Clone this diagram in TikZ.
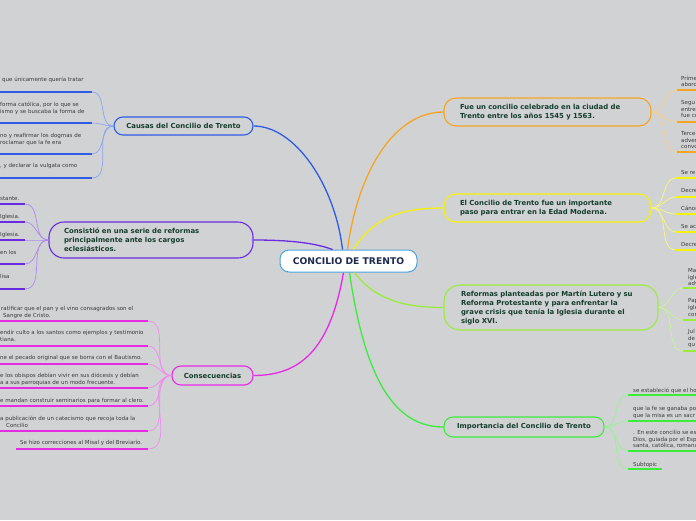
\documentclass[tikz,border=0pt]{standalone}
\usepackage{fontspec}
\setmainfont{DejaVu Sans}
\definecolor{bgc}{HTML}{D1D2D4}
\definecolor{ttxt}{HTML}{143D2C}
\definecolor{ctxt}{HTML}{3A3A3A}
\definecolor{navy}{HTML}{1B2A4E}
\definecolor{cbord}{HTML}{4DA3DF}
\definecolor{corange}{HTML}{F5A424}
\definecolor{cyellow}{HTML}{F2F20A}
\definecolor{clime}{HTML}{9CEB3C}
\definecolor{cgreen}{HTML}{3DEB3D}
\definecolor{cblue}{HTML}{2F5CE6}
\definecolor{cpurple}{HTML}{6A2CE3}
\definecolor{cmag}{HTML}{E52BE5}
\newcommand{\chfont}{\fontsize{5.5}{6.8}\selectfont}
\newcommand{\tpfont}{\fontsize{6.9}{9}\selectfont\bfseries}
\newcommand{\cnfont}{\fontsize{9.2}{11}\selectfont\bfseries}
\tikzset{
  topic/.style 2 args={draw=#1, line width=1.1pt, rounded corners=#2, font=\tpfont, text=ttxt, inner ysep=0pt, shape=rectangle},
  mainline/.style={draw=#1, line width=1.3pt},
  subline/.style={draw=#1!55!white, line width=0.7pt},
  uline/.style={draw=#1, line width=1.7pt},
  chtext/.style={font=\chfont, text=ctxt, inner sep=0pt, align=left, anchor=north west},
}
% right child: name, parent, colour, xstart, xend, yline, xtext, ytop, text
\newcommand{\rchild}[9]{%
  \coordinate (#1s) at (#4,#6);
  \coordinate (#1e) at (#5,#6);
  \draw[uline=#3] (#1s) -- (#1e);
  \draw[subline=#3] (#2.east) to[out=0,in=180] (#1s);
  \node[chtext] (#1t) at (#7,#8) {#9};}
% left child: name, parent, colour, xnear, xfar, yline, xtext, ytop, text
\newcommand{\lchild}[9]{%
  \coordinate (#1s) at (#4,#6);
  \coordinate (#1e) at (#5,#6);
  \draw[uline=#3] (#1e) -- (#1s);
  \draw[subline=#3] (#2.west) to[out=180,in=0] (#1s);
  \node[chtext] (#1t) at (#7,#8) {#9};}
\begin{document}
\begin{tikzpicture}[x=1pt,y=-1pt]
\useasboundingbox (0,0) rectangle (696,520);
\fill[bgc] (0,0) rectangle (696,520);
\clip (0,0) rectangle (696,520);

% central node
\node[draw=cbord, fill=white, line width=1pt, rounded corners=9pt, minimum width=137, minimum height=22, font=\cnfont, text=navy, inner sep=0pt] (cent) at (348.5,261) {CONCILIO DE TRENTO};

% main topics
\node[topic={corange}{12pt}, minimum width=207, minimum height=28, inner xsep=16, text width=175, align=left] (fue) at (547.5,112) {Fue un concilio celebrado en la ciudad de\\Trento entre los años 1545 y 1563.};
\node[topic={cyellow}{12pt}, minimum width=207, minimum height=28, inner xsep=16, text width=175, align=left] (paso) at (547.5,208) {El Concilio de Trento fue un importante\\paso para entrar en la Edad Moderna.};
\node[topic={clime}{16pt}, minimum width=214, minimum height=45, inner xsep=17, text width=180, align=left] (reformas) at (551,307.5) {Reformas planteadas por Martín Lutero y su\\Reforma Protestante y para enfrentar la\\grave crisis que tenía la Iglesia durante el\\siglo XVI.};
\node[topic={cgreen}{9pt}, minimum width=160, minimum height=20] (importancia) at (524,427) {Importancia del Concilio de Trento};
\node[topic={cblue}{9pt}, minimum width=139, minimum height=18] (causas) at (183.5,126) {Causas del Concilio de Trento};
\node[topic={cpurple}{15pt}, minimum width=204, minimum height=36, inner xsep=15, text width=174, align=left] (consistio) at (151,240) {Consistió en una serie de reformas\\principalmente ante los cargos\\eclesiásticos.};
\node[topic={cmag}{9pt}, minimum width=81, minimum height=19] (consec) at (212.5,375.5) {Consecuencias};

% main connectors
\draw[mainline=cblue] ([xshift=-6pt]cent.north) .. controls (335,185) and (295,126) .. (causas.east);
\draw[mainline=corange] ([xshift=-1pt]cent.north) .. controls (358,170) and (395,112) .. (fue.west);
\draw[mainline=cyellow] ([xshift=5pt]cent.north) .. controls (375,215) and (405,208) .. (paso.west);
\draw[mainline=cpurple] ([xshift=-16pt]cent.north) .. controls (315,243) and (290,240) .. (consistio.east);
\draw[mainline=clime] ([xshift=6pt]cent.south) .. controls (375,300) and (405,307.5) .. (reformas.west);
\draw[mainline=cgreen] ([xshift=1pt]cent.south) .. controls (365,380) and (395,427) .. (importancia.west);
\draw[mainline=cmag] ([xshift=-5pt]cent.south) .. controls (330,350) and (300,375.5) .. (consec.east);

% orange children
\rchild{oa}{fue}{corange}{677}{700}{90}{681}{75.8}{Prime\\abord}
\rchild{ob}{fue}{corange}{677}{700}{122}{681}{100}{Segu\\entre\\fue co}
\rchild{oc}{fue}{corange}{677}{700}{152}{681}{131}{Terce\\adver\\convo}

% yellow children
\rchild{ya}{paso}{cyellow}{676}{700}{178}{681}{170}{Se re}
\rchild{yb}{paso}{cyellow}{676}{700}{197}{681}{188}{Decre}
\rchild{yc}{paso}{cyellow}{676}{700}{214}{681}{205.5}{Cánon}
\rchild{yd}{paso}{cyellow}{676}{700}{232}{681}{224}{Se ac}
\rchild{ye}{paso}{cyellow}{676}{700}{250}{681}{242}{Decre}

% lime children
\rchild{la}{reformas}{clime}{683}{700}{288}{688}{268}{Ma\\igle\\adv}
\rchild{lb}{reformas}{clime}{683}{700}{320}{688}{298.5}{Pap\\igle\\con}
\rchild{lc}{reformas}{clime}{683}{700}{351}{688}{329}{Jul\\de\\qu}

% green children
\rchild{ga}{importancia}{cgreen}{628}{700}{395}{633}{387.5}{se estableció que el ho}
\rchild{gb}{importancia}{cgreen}{628}{700}{421}{633}{406}{que la fe se ganaba po\\que la misa es un sacr}
\rchild{gc}{importancia}{cgreen}{628}{700}{451}{633}{430}{. En este concilio se es\\Dios, guiada por el Esp\\santa, católica, romana}
\rchild{gd}{importancia}{cgreen}{628}{662}{469}{633}{462}{Subtopic}

% blue children
\lchild{ba}{causas}{cblue}{92}{-3}{92}{2}{77}{que únicamente quería tratar}
\lchild{bb}{causas}{cblue}{92}{-3}{123}{0}{102}{forma católica, por lo que se\\ismo y se buscaba la forma de}
\lchild{bc}{causas}{cblue}{92}{-3}{154}{0}{133}{no y reafirmar los dogmas de\\roclamar que la fe era}
\lchild{bd}{causas}{cblue}{92}{-3}{178}{0}{163.5}{, y declarar la vulgata como}

% purple children
\lchild{pa}{consistio}{cpurple}{25}{-3}{204}{0}{196}{stante.}
\lchild{pb}{consistio}{cpurple}{25}{-3}{222}{0}{214}{Iglesia.}
\lchild{pc}{consistio}{cpurple}{25}{-3}{240}{0}{232}{Iglesia.}
\lchild{pd}{consistio}{cpurple}{25}{-3}{264}{0}{250}{en los}
\lchild{pe}{consistio}{cpurple}{25}{-3}{289}{0}{274}{lisa}

% magenta children
\lchild{ma}{consec}{cmag}{148}{-3}{321}{1}{306}{ratificar que el pan y el vino consagrados son el\\\hspace*{2pt}Sangre de Cristo.}
\lchild{mb}{consec}{cmag}{148}{-3}{346}{0}{330.5}{endir culto a los santos como ejemplos y testimonio\\tiana.}
\lchild{mc}{consec}{cmag}{148}{-3}{364}{0}{355}{ne el pecado original que se borra con el Bautismo.}
\lchild{md}{consec}{cmag}{148}{-3}{388}{0}{373}{e los obispos debían vivir en sus diócesis y debían\\a a sus parroquias de un modo frecuente.}
\lchild{me}{consec}{cmag}{148}{-3}{406}{0}{398}{e mandan construir seminarios para formar al clero.}
\lchild{mf}{consec}{cmag}{148}{-3}{431}{0}{416}{a publicación de un catecismo que recoja toda la\\\hspace*{6pt}Concilio}
\lchild{mg}{consec}{cmag}{148}{16}{449}{20}{440}{Se hizo correcciones al Misal y del Breviario.}
\end{tikzpicture}
\end{document}
